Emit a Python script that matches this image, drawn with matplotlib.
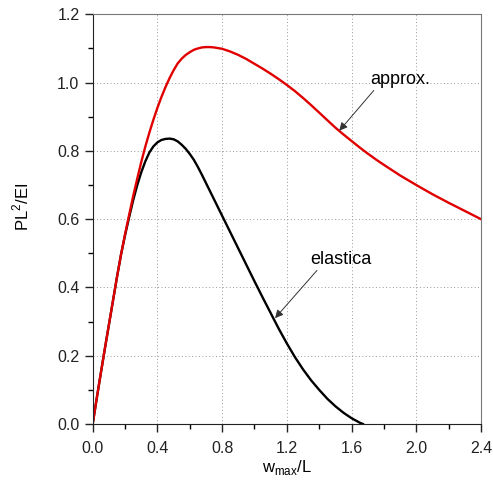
import matplotlib
matplotlib.use("Agg")
import matplotlib.pyplot as plt
from matplotlib.ticker import MultipleLocator, FormatStrFormatter

plt.rcParams['font.family'] = ['Liberation Sans', 'DejaVu Sans']

# approx. curve (red)
approx_x = [0.0, 0.025, 0.05, 0.075, 0.1, 0.125, 0.15, 0.175, 0.2, 0.225, 0.25, 0.275,
            0.3, 0.325, 0.35, 0.375, 0.4, 0.425, 0.45, 0.475, 0.5, 0.525, 0.55, 0.575,
            0.6, 0.625, 0.65, 0.675, 0.7, 0.725, 0.75, 0.8, 0.85, 0.9, 0.95, 1.0,
            1.05, 1.1, 1.15, 1.2, 1.25, 1.3, 1.35, 1.4, 1.45, 1.5, 1.55, 1.6,
            1.65, 1.7, 1.75, 1.8, 1.9, 2.0, 2.1, 2.2, 2.3, 2.4]
approx_y = [0.0, 0.075, 0.148, 0.22, 0.29, 0.36, 0.43, 0.496, 0.556, 0.612, 0.667, 0.718,
            0.767, 0.812, 0.853, 0.891, 0.926, 0.958, 0.987, 1.013, 1.036, 1.056, 1.070, 1.081,
            1.089, 1.096, 1.100, 1.103, 1.104, 1.104, 1.103, 1.099, 1.091, 1.081, 1.069, 1.055,
            1.041, 1.026, 1.010, 0.993, 0.975, 0.955, 0.934, 0.912, 0.890, 0.868, 0.848, 0.829,
            0.810, 0.792, 0.775, 0.759, 0.728, 0.700, 0.673, 0.648, 0.624, 0.600]

# elastica curve (black)
elastica_x = [0.0, 0.025, 0.05, 0.075, 0.1, 0.125, 0.15, 0.175, 0.2, 0.225, 0.25, 0.275,
              0.3, 0.325, 0.35, 0.375, 0.4, 0.425, 0.45, 0.475, 0.5, 0.525, 0.55, 0.575,
              0.6, 0.625, 0.65, 0.675, 0.7, 0.725, 0.75, 0.8, 0.85, 0.9, 0.95, 1.0,
              1.05, 1.1, 1.15, 1.2, 1.25, 1.3, 1.35, 1.4, 1.45, 1.5, 1.55, 1.6,
              1.65, 1.67]
elastica_y = [0.0, 0.075, 0.148, 0.22, 0.29, 0.36, 0.43, 0.496, 0.553, 0.605, 0.655, 0.699,
              0.737, 0.769, 0.795, 0.813, 0.825, 0.832, 0.835, 0.836, 0.834, 0.828, 0.818, 0.806,
              0.791, 0.774, 0.753, 0.730, 0.706, 0.682, 0.658, 0.610, 0.562, 0.514, 0.466, 0.418,
              0.371, 0.325, 0.279, 0.236, 0.196, 0.160, 0.128, 0.100, 0.074, 0.052, 0.033, 0.017,
              0.004, 0.0]

fig = plt.figure(figsize=(4.93, 4.82), dpi=100)
ax = fig.add_axes([0.188, 0.1203, 0.7877, 0.85])

ax.plot(elastica_x, elastica_y, color='black', lw=1.7, solid_joinstyle='round')
ax.plot(approx_x, approx_y, color='#e00000', lw=1.7, solid_joinstyle='round')

ax.set_xlim(0, 2.4)
ax.set_ylim(0, 1.2)
ax.xaxis.set_major_locator(MultipleLocator(0.4))
ax.xaxis.set_minor_locator(MultipleLocator(0.2))
ax.yaxis.set_major_locator(MultipleLocator(0.2))
ax.yaxis.set_minor_locator(MultipleLocator(0.1))
ax.xaxis.set_major_formatter(FormatStrFormatter('%.1f'))
ax.yaxis.set_major_formatter(FormatStrFormatter('%.1f'))

ax.tick_params(which='major', direction='out', length=6, width=1, labelsize=11.5,
               colors='#222222')
ax.tick_params(axis='x', which='major', pad=6)
ax.tick_params(which='minor', direction='out', length=3.5, width=1)
ax.grid(True, which='major', linestyle=(0, (1, 2.5)), color='#999999', lw=0.7)

for side in ['left', 'bottom']:
    ax.spines[side].set_color('#222222')
for side in ['top', 'right']:
    ax.spines[side].set_color('#777777')

ax.set_xlabel(r'w$_{\mathregular{max}}$/L', fontsize=12)
ax.xaxis.set_label_coords(0.5, -0.083)
ax.set_ylabel(r'PL$^{\mathregular{2}}$/EI', fontsize=12)
ax.yaxis.set_label_coords(-0.157, 0.53)

arrow = dict(arrowstyle='-|>', color='#333333', lw=0.7, mutation_scale=12, shrinkA=0, shrinkB=0)
ax.annotate('approx.', xy=(1.524, 0.859), xytext=(1.90, 1.01), fontsize=13,
            ha='center', va='center', arrowprops=dict(arrow, relpos=(0.1, 0.0)))
ax.annotate('elastica', xy=(1.127, 0.31), xytext=(1.534, 0.483), fontsize=13,
            ha='center', va='center', arrowprops=dict(arrow, relpos=(0.15, 0.0)))

fig.savefig('out.png', dpi=100)
